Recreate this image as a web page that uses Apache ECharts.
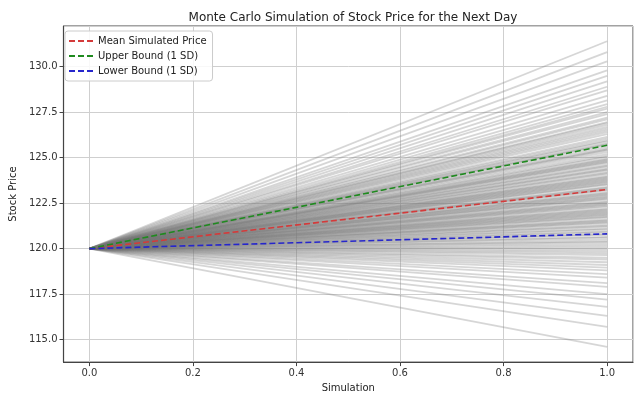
<!DOCTYPE html>
<html>
<head>
<meta charset="utf-8">
<script src="https://cdn.jsdelivr.net/npm/echarts@6/dist/echarts.min.js"></script>
<style>
  html, body { margin: 0; padding: 0; background: #fff; }
  #chart { width: 640px; height: 398px; }
</style>
</head>
<body>
<div id="chart"></div>
<script>
// time axis of each simulated path (start, next day)
const steps = [0, 1];
const startPrice = 120;

// simulated closing prices for the next day, read off the fan of grey lines
const simEnds = [
  114.6,
  115.7,
  116.3, 116.8,
  117.2, 117.5, 117.9,
  118.1, 118.4, 118.6, 118.8, 118.95,
  119.1, 119.25, 119.4, 119.5, 119.65, 119.75, 119.85, 119.95,
  120.05, 120.15, 120.25, 120.35, 120.4, 120.5, 120.6, 120.65, 120.75, 120.8, 120.9, 120.95,
  121.05, 121.1, 121.2, 121.25, 121.3, 121.4, 121.45, 121.5, 121.55, 121.6, 121.7, 121.75, 121.8, 121.85, 121.9, 121.95,
  122.0, 122.05, 122.1, 122.15, 122.2, 122.3, 122.35, 122.4, 122.45, 122.5, 122.55, 122.6, 122.7, 122.75, 122.8, 122.85, 122.9, 122.95,
  123.0, 123.05, 123.1, 123.2, 123.25, 123.3, 123.35, 123.4, 123.5, 123.55, 123.6, 123.65, 123.7, 123.75, 123.8, 123.85, 123.9, 123.95,
  124.0, 124.1, 124.15, 124.2, 124.3, 124.35, 124.4, 124.5, 124.55, 124.6, 124.7, 124.75, 124.8, 124.85, 124.9, 124.95,
  125.05, 125.1, 125.2, 125.3, 125.4, 125.45, 125.5, 125.6, 125.7, 125.75, 125.8, 125.9, 125.95,
  126.05, 126.15, 126.3, 126.4, 126.5, 126.6, 126.7, 126.8, 126.9, 126.95,
  127.1, 127.2, 127.4, 127.5, 127.7, 127.8, 127.95,
  128.15, 128.4, 128.7, 128.9,
  129.2, 129.5, 129.8,
  130.3, 130.8,
  131.4
];

const meanPrice = [120, 123.25];
const upperBound = [120, 125.68];
const lowerBound = [120, 120.81];

const chart = echarts.init(document.getElementById('chart'));

const toPts = arr => steps.map((s, i) => [s, arr[i]]);

const series = simEnds.map(v => ({
  type: 'line',
  data: toPts([startPrice, v]),
  symbol: 'none',
  silent: true,
  lineStyle: { color: 'rgba(120,120,120,0.3)', width: 1.8 },
  z: 1
}));

const dashed = (name, arr, color) => ({
  name: name,
  type: 'line',
  data: toPts(arr),
  symbol: 'none',
  silent: true,
  lineStyle: { color: color, width: 1.6, type: [6, 3] },
  itemStyle: { color: color },
  z: 5
});

series.push(dashed('Mean Simulated Price', meanPrice, '#d43a3a'));
series.push(dashed('Upper Bound (1 SD)', upperBound, '#1f8a1f'));
series.push(dashed('Lower Bound (1 SD)', lowerBound, '#2626cc'));

const font = 'DejaVu Sans';
// three short dashes as the legend key
const dashIcon = 'path://M0,0h6v2h-6z M9,0h6v2h-6z M18,0h6v2h-6z';

chart.setOption({
  animation: false,
  backgroundColor: '#fff',
  title: {
    text: 'Monte Carlo Simulation of Stock Price for the Next Day',
    left: 348,
    top: 7,
    textAlign: 'center',
    textStyle: { fontFamily: font, fontSize: 12, fontWeight: 'normal', color: '#222' }
  },
  legend: {
    data: ['Mean Simulated Price', 'Upper Bound (1 SD)', 'Lower Bound (1 SD)'],
    icon: dashIcon,
    orient: 'vertical',
    left: 65,
    top: 31,
    itemWidth: 24,
    itemHeight: 2,
    itemGap: 5,
    padding: [5, 6, 5, 4],
    borderColor: '#ccc',
    borderWidth: 1,
    borderRadius: 3,
    backgroundColor: 'rgba(255,255,255,0.85)',
    textStyle: { fontFamily: font, fontSize: 10, color: '#222', lineHeight: 10 }
  },
  grid: {
    left: 63, right: 7, top: 26, bottom: 32,
    show: true,
    borderColor: '#444',
    borderWidth: 1
  },
  xAxis: {
    type: 'value',
    min: -0.05,
    max: 1.05,
    minInterval: 0.2,
    maxInterval: 0.2,
    name: 'Simulation',
    nameLocation: 'middle',
    nameGap: 19,
    nameTextStyle: { fontFamily: font, fontSize: 10, color: '#222' },
    axisLine: { show: true, onZero: false, lineStyle: { color: '#444', width: 1.2 } },
    axisTick: { show: true, length: 4, lineStyle: { color: '#444' } },
    axisLabel: {
      fontFamily: font, fontSize: 10, color: '#333', margin: 6,
      showMinLabel: false, showMaxLabel: false,
      formatter: v => v.toFixed(1)
    },
    splitLine: { show: true, lineStyle: { color: '#cfcfcf', width: 1 } }
  },
  yAxis: {
    type: 'value',
    min: 113.76,
    max: 132.24,
    minInterval: 2.5,
    maxInterval: 2.5,
    name: 'Stock Price',
    nameLocation: 'middle',
    nameGap: 40,
    nameTextStyle: { fontFamily: font, fontSize: 10, color: '#222' },
    axisLine: { show: true, onZero: false, lineStyle: { color: '#444', width: 1.2 } },
    axisTick: { show: true, length: 4, lineStyle: { color: '#444' } },
    axisLabel: {
      fontFamily: font, fontSize: 10, color: '#333', margin: 6,
      showMinLabel: false, showMaxLabel: false,
      formatter: v => v.toFixed(1)
    },
    splitLine: { show: true, lineStyle: { color: '#cfcfcf', width: 1 } }
  },
  series: series
});
</script>
</body>
</html>
